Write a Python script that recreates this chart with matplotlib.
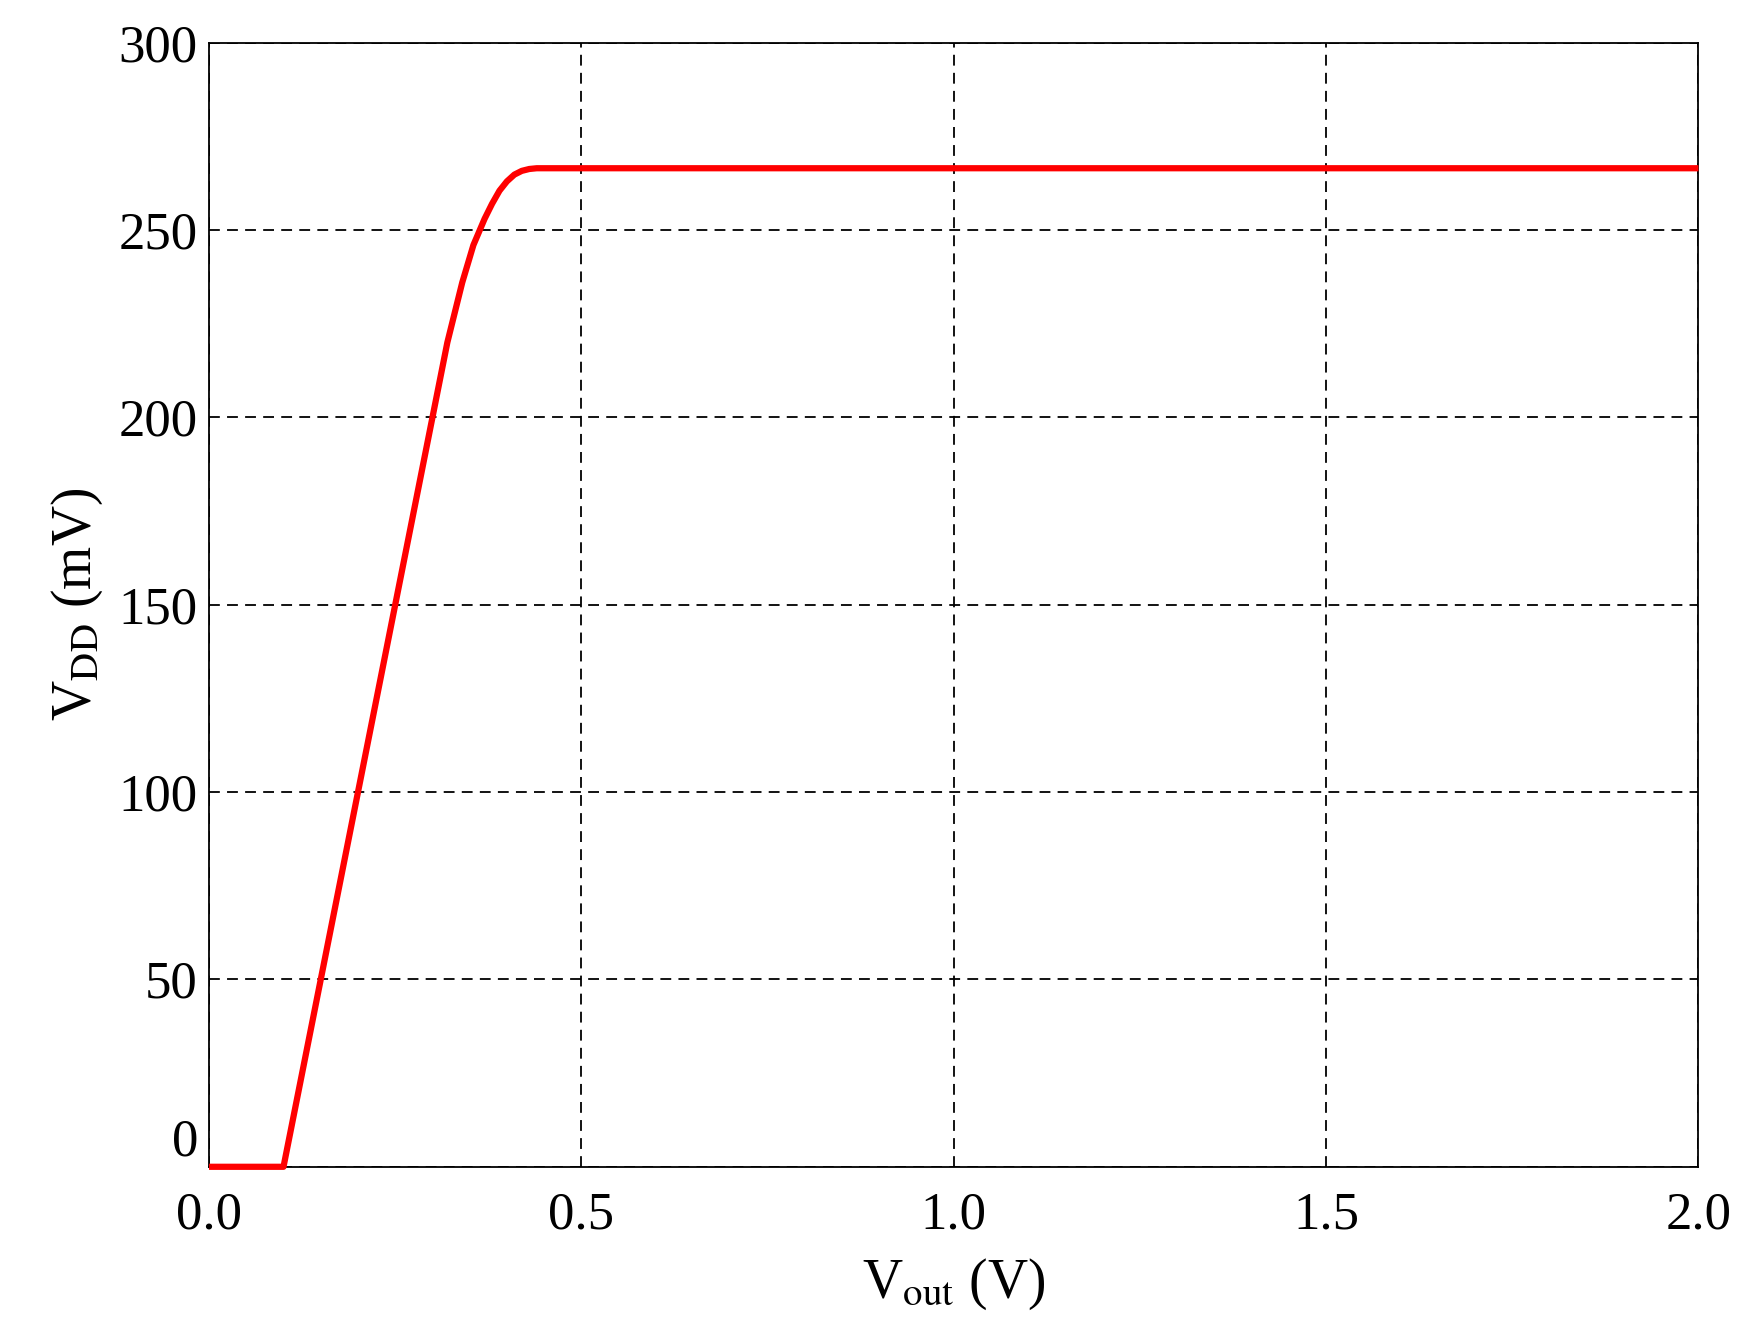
import matplotlib
matplotlib.use("Agg")
import matplotlib.pyplot as plt

plt.rcParams["font.family"] = ["Liberation Serif", "DejaVu Serif"]
plt.rcParams["mathtext.fontset"] = "stix"

# curve
vout = [0.0, 0.10, 0.125, 0.15, 0.20, 0.25, 0.30, 0.32, 0.34, 0.355, 0.37, 0.38,
        0.39, 0.40, 0.41, 0.42, 0.43, 0.44, 0.45, 2.0]
vdd = [0, 0, 25, 50, 100, 150, 200, 220, 236, 246, 253, 257,
       260.5, 263, 264.8, 265.8, 266.3, 266.5, 266.5, 266.5]

xticks = [0.0, 0.5, 1.0, 1.5, 2.0]
yticks = [0, 50, 100, 150, 200, 250, 300]

fig = plt.figure(figsize=(17.42, 13.35), dpi=100)
ax = fig.add_axes([0.12, 0.126, 0.855, 0.842])
ax.plot(vout, vdd, color="red", lw=4.5, solid_capstyle="butt", zorder=3, clip_on=False)
ax.set_xlim(0, 2)
ax.set_ylim(0, 300)
ax.set_xticks(xticks)
ax.set_xticklabels([f"{t:.1f}" for t in xticks])
ax.set_yticks(yticks)
ax.grid(True, color="black", ls=(0, (6, 4)), lw=1.3)
ax.tick_params(labelsize=38, length=0)
ax.tick_params(axis="x", pad=18)
ax.tick_params(axis="y", pad=8)
ax.get_yticklabels()[0].set_va("bottom")
for s in ax.spines.values():
    s.set_linewidth(1.3)
ax.set_xlabel(r"V$_{\mathrm{out}}$ (V)", fontsize=40, labelpad=12)
ax.set_ylabel(r"V$_{\mathrm{DD}}$ (mV)", fontsize=40, labelpad=10)

fig.savefig("out.png", dpi=100)
